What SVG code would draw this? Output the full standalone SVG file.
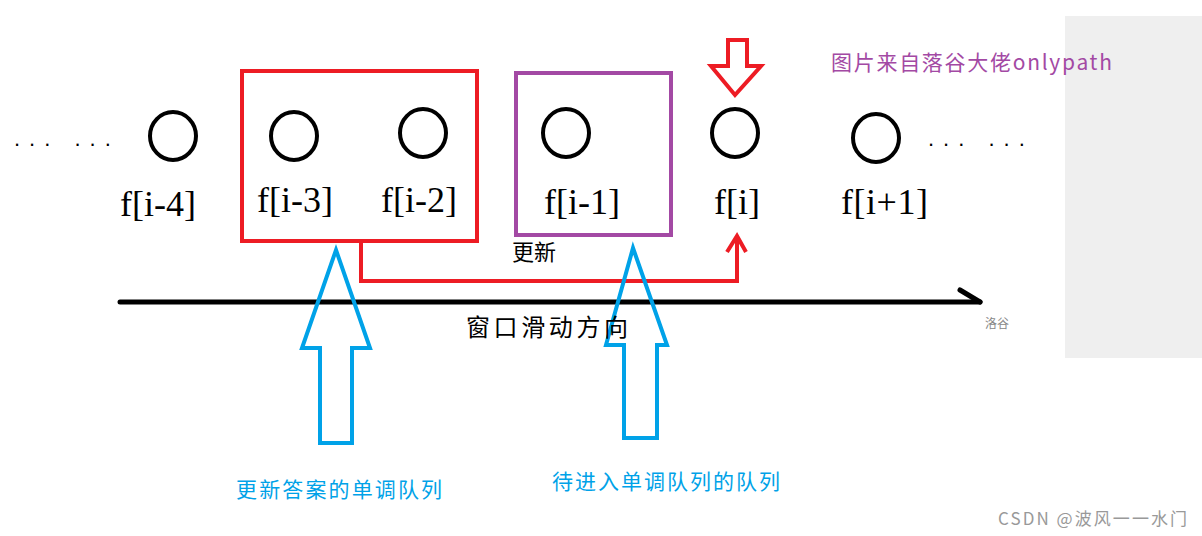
<svg xmlns="http://www.w3.org/2000/svg" width="1202" height="536" viewBox="0 0 1202 536">
<style>
.n{fill:none;stroke:#000;stroke-width:4}
.l{font-family:"Liberation Serif",serif;font-size:36px;fill:#000}
.c{font-family:"Noto Sans CJK SC",sans-serif}
.d{font-family:"Liberation Sans",sans-serif;font-size:22px;fill:#000;letter-spacing:9px}
</style>
<rect width="1202" height="536" fill="#fff"/>
<rect x="1065" y="16" width="137" height="342" fill="#efefef"/>
<text x="14" y="146" class="d">... ...</text>
<text x="928" y="146" class="d">... ...</text>
<g id="n1"><ellipse cx="173" cy="136" rx="23" ry="24" class="n"/><text x="120" y="216" class="l">f[i-4]</text></g>
<g id="n2"><ellipse cx="294" cy="136" rx="23" ry="24" class="n"/><text x="257" y="212" class="l">f[i-3]</text></g>
<g id="n3"><ellipse cx="423" cy="133" rx="23" ry="24" class="n"/><text x="381" y="212" class="l">f[i-2]</text></g>
<g id="n4"><ellipse cx="566" cy="133" rx="23" ry="24" class="n"/><text x="544" y="214" class="l">f[i-1]</text></g>
<g id="n5"><ellipse cx="735" cy="133" rx="23" ry="24" class="n"/><text x="714" y="214" class="l">f[i]</text></g>
<g id="n6"><ellipse cx="876" cy="138" rx="23" ry="24" class="n"/><text x="841" y="214" class="l" textLength="87">f[i+1]</text></g>
<rect id="redbox" x="242" y="71" width="235" height="170" fill="none" stroke="#ed1c24" stroke-width="4"/>
<rect id="purplebox" x="516" y="73" width="155" height="162" fill="none" stroke="#a349a4" stroke-width="4"/>
<g id="connectors" fill="none" stroke-linejoin="miter">
<polyline points="361,242 361,281 737,281 737,236" stroke="#ed1c24" stroke-width="4"/>
<polyline points="727,252 737,236 746,252" stroke="#ed1c24" stroke-width="4"/>
<polygon points="728,40 747,40 747,66 761,66 735,95 711,66 728,66" stroke="#ed1c24" stroke-width="4"/>
<line x1="120" y1="302" x2="980" y2="302" stroke="#000" stroke-width="5" stroke-linecap="round"/>
<line x1="960" y1="290" x2="980" y2="302" stroke="#000" stroke-width="5" stroke-linecap="round"/>
<polygon points="336,250 370,348 352,348 352,443 320,443 320,348 302,348" stroke="#00a2e8" stroke-width="4"/>
<polygon points="633,248 667,345 657,345 657,438 624,438 624,345 606,345" stroke="#00a2e8" stroke-width="4"/>
</g>
<text x="512" y="260" class="c" font-size="22" fill="#000">更新</text>
<text x="466" y="336" class="c" font-size="24" textLength="162" fill="#000">窗口滑动方向</text>
<text x="985" y="328" class="c" font-size="12" fill="#888">洛谷</text>
<text x="831" y="70" class="c" font-size="21" textLength="281" fill="#a349a4">图片来自落谷大佬onlypath</text>
<text x="236" y="497" class="c" font-size="21" textLength="206" fill="#00a2e8">更新答案的单调队列</text>
<text x="552" y="489" class="c" font-size="21" textLength="228" fill="#00a2e8">待进入单调队列的队列</text>
<text x="998" y="525" class="c" font-size="17" textLength="189" fill="#999">CSDN @波风一一水门</text>
</svg>
